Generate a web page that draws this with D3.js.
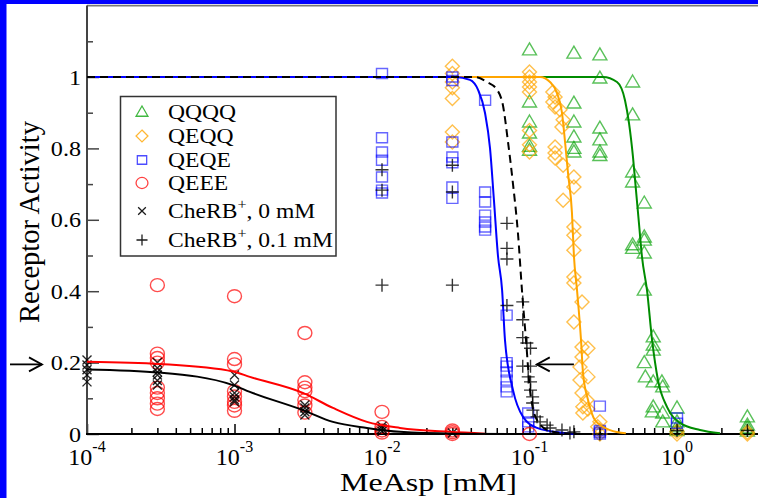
<!DOCTYPE html>
<html><head><meta charset="utf-8">
<script src="https://cdn.jsdelivr.net/npm/d3@7/dist/d3.min.js"></script>
<style>body{margin:0;background:#fff}svg{display:block}text{font-family:"Liberation Serif","Times New Roman",serif;fill:#000}</style>
</head><body>
<svg id="chart" width="758" height="498"></svg>
<script>
// ---------- tick labels ----------
const xTicks = [1e-4, 1e-3, 1e-2, 1e-1, 1];
const xTickExp = ["-4", "-3", "-2", "-1", "0"];
const yTicks = [0, 0.2, 0.4, 0.6, 0.8, 1];
const yTickLabels = ["0", "0.2", "0.4", "0.6", "0.8", "1"];
const yMinorTicks = [0.1, 0.3, 0.5, 0.7, 0.9, 1.1];
const legendLabels = ["QQQQ", "QEQQ", "QEQE", "QEEE", "CheRB+, 0 mM", "CheRB+, 0.1 mM"];

// ---------- measured points [MeAsp mM, activity] ----------
const qqqq = [
  [0.1,1.076],[0.1,0.93],[0.1,0.874],[0.1,0.843],[0.1,0.806],[0.1,0.795],
  [0.2,1.067],[0.2,0.927],[0.2,0.874],[0.2,0.832],[0.2,0.80],[0.2,0.79],
  [0.3,1.062],[0.3,0.997],[0.3,0.857],[0.3,0.824],[0.3,0.79],[0.3,0.78],
  [0.5,0.986],[0.5,0.894],[0.5,0.734],[0.5,0.706],[0.5,0.53],[0.5,0.52],
  [0.6,0.647],[0.6,0.552],[0.6,0.543],[0.6,0.507],[0.6,0.403],[0.6,0.2],[0.61,0.16],
  [0.69,0.272],[0.69,0.249],[0.69,0.235],[0.69,0.146],[0.69,0.076],[0.68,0.062],
  [0.79,0.146],[0.8,0.132],[0.8,0.059],[0.8,0.034],
  [1,0.073],[1,0.034],[1,0.02],[1,0.01],
  [3,0.048],[3,0.025],[3,0.017],[3,0.008]
];
const qeqq = [
  [0.03,1.03],[0.03,1.01],[0.03,0.986],[0.03,0.97],[0.03,0.94],[0.03,0.846],[0.03,0.818],
  [0.1,1.014],[0.1,1.0],[0.1,0.986],[0.1,0.972],[0.1,0.958],[0.1,0.85],[0.1,0.81],[0.1,0.79],
  [0.144,0.958],[0.149,0.944],[0.144,0.93],[0.149,0.916],[0.161,0.908],[0.169,0.88],[0.166,0.86],
  [0.149,0.804],[0.149,0.787],[0.149,0.773],[0.169,0.753],[0.2,0.72],[0.2,0.692],[0.169,0.655],
  [0.2,0.58],[0.2,0.557],[0.2,0.515],[0.2,0.44],[0.2,0.423],[0.227,0.37],[0.2,0.314],
  [0.227,0.244],[0.249,0.24],[0.227,0.216],[0.22,0.188],[0.249,0.16],[0.22,0.151],
  [0.227,0.115],[0.245,0.095],[0.23,0.076],[0.249,0.07],[0.23,0.059],[0.3,0.034],[0.29,0.02],
  [0.3,0.01],[0.3,0.0],[1,0.008],[1,0.0],[3,0.005],[3,0.0]
];
const qeqe = [
  [0.01,1.01],[0.01,0.83],[0.01,0.79],[0.01,0.767],[0.01,0.72],[0.01,0.683],[0.01,0.675],
  [0.03,1.0],[0.03,0.99],[0.03,0.818],[0.03,0.776],[0.03,0.76],[0.03,0.692],[0.03,0.66],
  [0.05,0.935],[0.05,0.678],[0.05,0.65],[0.05,0.613],[0.05,0.594],[0.05,0.58],[0.05,0.571],
  [0.07,0.333],[0.07,0.2],[0.07,0.19],[0.07,0.174],[0.07,0.151],[0.07,0.132],[0.07,0.118],
  [0.098,0.059],[0.098,0.034],[0.098,0.02],
  [0.3,0.078],[0.3,0.01],[0.3,0.005],[0.3,0.0],
  [1,0.045],[1,0.03]
];
const qeee = [
  [3e-4,0.417],[3e-4,0.225],[3e-4,0.213],[3e-4,0.2],[3e-4,0.13],[3e-4,0.115],[3e-4,0.1],[3e-4,0.085],[3e-4,0.07],
  [1e-3,0.386],[1e-3,0.21],[1e-3,0.195],[1e-3,0.12],[1e-3,0.105],[1e-3,0.09],[1e-3,0.08],[1e-3,0.065],
  [3e-3,0.283],[3e-3,0.145],[3e-3,0.13],[3e-3,0.12],[3e-3,0.095],[3e-3,0.08],[3e-3,0.06],
  [0.01,0.062],[0.01,0.02],[0.01,0.01],[0.01,0.004],
  [0.03,0.01],[0.03,0.005],[0.03,0.0],
  [0.1,0.0]
];
const cherb0 = [
  [1e-4,0.207],[1e-4,0.193],[1e-4,0.18],[1e-4,0.165],[1e-4,0.146],
  [3e-4,0.2],[3e-4,0.185],[3e-4,0.174],[3e-4,0.165],[3e-4,0.15],[3e-4,0.137],
  [1e-3,0.165],[1e-3,0.137],[1e-3,0.115],[1e-3,0.104],[1e-3,0.095],[1e-3,0.09],
  [3e-3,0.081],[3e-3,0.073],[3e-3,0.062],[3e-3,0.053],
  [0.01,0.022],[0.01,0.015],[0.01,0.008],
  [0.03,0.003]
];
const cherb01 = [
  [0.01,0.74],[0.01,0.683],[0.01,0.417],
  [0.03,0.753],[0.03,0.678],[0.03,0.417],
  [0.0703,0.59],[0.0703,0.52],[0.0703,0.49],[0.0703,0.36],
  [0.09,0.37],[0.09,0.32],[0.09,0.27],[0.096,0.255],[0.1016,0.24],[0.09,0.19],[0.1016,0.19],
  [0.098,0.16],[0.1016,0.146],[0.1016,0.123],[0.105,0.104],[0.105,0.087],[0.1055,0.067],
  [0.1125,0.048],[0.118,0.034],[0.1316,0.025],[0.138,0.017],[0.166,0.011],[0.2,0.006],[0.188,0.003],
  [0.3,0.0],[1,0.01],[3,0.01]
];

// ---------- model curves [MeAsp mM, activity] ----------
const curveQQQQ = [[1e-4,1],[0.315,1],[0.392,0.986],[0.444,0.935],[0.473,0.87],[0.503,0.776],[0.527,0.683],[0.552,0.591],[0.579,0.496],[0.626,0.403],[0.678,0.263],[0.743,0.151],[0.855,0.076],[1.047,0.031],[1.432,0.011],[1.958,0.002]];
const curveQEQQ = [[1e-4,1],[0.118,1],[0.1377,0.986],[0.1535,0.955],[0.166,0.9],[0.174,0.82],[0.1825,0.73],[0.194,0.62],[0.2,0.5],[0.21,0.403],[0.2235,0.263],[0.2305,0.171],[0.2494,0.095],[0.278,0.039],[0.3516,0.011],[0.45,0.002]];
const curveQEQE = [[1e-4,1],[0.0313,1],[0.0395,0.992],[0.0448,0.964],[0.0499,0.90],[0.054,0.80],[0.0574,0.655],[0.0611,0.50],[0.0652,0.403],[0.0682,0.263],[0.0773,0.123],[0.0904,0.048],[0.1125,0.017],[0.161,0.004],[0.2,0.0]];
const curveCheRB01 = [[1e-4,1],[0.0428,1],[0.0515,0.986],[0.0603,0.964],[0.0661,0.92],[0.0714,0.82],[0.0773,0.70],[0.0836,0.56],[0.089,0.40],[0.0947,0.263],[0.1008,0.123],[0.1125,0.039],[0.1377,0.008],[0.188,0.0]];
const curveQEEE = [[1e-4,0.2025],[3.13e-4,0.196],[9.77e-4,0.175],[1.27e-3,0.16],[2.91e-3,0.115],[4.65e-3,0.073],[7.91e-3,0.034],[0.01324,0.017],[0.0289,0.006],[0.05,0.001]];
const curveCheRB0 = [[1e-4,0.181],[3.13e-4,0.172],[9.77e-4,0.137],[1.27e-3,0.118],[2.91e-3,0.067],[4.65e-3,0.034],[7.91e-3,0.017],[0.01324,0.006],[0.03,0.001],[0.1,0.0]];

// ---------- drawing ----------
const svg = d3.select("#chart");
const x = d3.scaleLog().domain([1e-4, Math.pow(10, 0.6)]).range([87, 765.5]);
const y = d3.scaleLinear().domain([0, 1.2]).range([434, 5.6]);
const SX = 1.15; // horizontal stretch of glyphs in the original

svg.append("rect").attr("width", 758).attr("height", 498).attr("fill", "#fff");

// axes ticks
const minorX = [];
xTicks.forEach(d => { for (let k = 2; k <= 9; k++) { if (d * k < x.domain()[1]) minorX.push(d * k); } });
const gx = svg.append("g").attr("transform", "translate(0,434)");
gx.call(d3.axisBottom(x).tickValues(xTicks).tickSize(-10).tickFormat(""));
gx.append("g").call(d3.axisBottom(x).tickValues(minorX).tickSize(-6).tickFormat(""));
gx.selectAll(".domain").remove();
gx.selectAll("line").attr("stroke", "#000").attr("stroke-width", 1.5);

const gy = svg.append("g").attr("transform", "translate(87,0)");
gy.call(d3.axisLeft(y).tickValues(yTicks).tickSize(-12).tickFormat(""));
gy.append("g").call(d3.axisLeft(y).tickValues(yMinorTicks).tickSize(-6).tickFormat(""));
gy.selectAll(".domain").remove();
gy.selectAll("line").attr("stroke", "#444").attr("stroke-width", 1.5);

// frame lines
svg.append("line").attr("x1", 87).attr("x2", 758).attr("y1", y(1.2)).attr("y2", y(1.2)).attr("stroke", "#777").attr("stroke-width", 1.6);
svg.append("line").attr("x1", 87).attr("x2", 87).attr("y1", y(1.2)).attr("y2", y(0)).attr("stroke", "#444").attr("stroke-width", 2);
svg.append("line").attr("x1", 86).attr("x2", 758).attr("y1", y(0)).attr("y2", y(0)).attr("stroke", "#000").attr("stroke-width", 2);

// symbols
const sym = {
  tri: "M0,-7L7,5L-7,5Z",
  dia: "M0,-7L7,0L0,7L-7,0Z",
  sq: "M-5.5,-5H5.5V5H-5.5Z",
  circ: "M7,0A7,6.5 0 1,1 -7,0A7,6.5 0 1,1 7,0Z",
  cross: "M-4.5,-4.5L4.5,4.5M-4.5,4.5L4.5,-4.5",
  plus: "M-6.5,0H6.5M0,-6.5V6.5"
};
const series = [
  {data: qqqq, shape: "tri", color: "#00a000", op: 0.65},
  {data: qeqq, shape: "dia", color: "#ffa500", op: 0.7},
  {data: qeqe, shape: "sq", color: "#0000ff", op: 0.6},
  {data: qeee, shape: "circ", color: "#ff0000", op: 0.7},
  {data: cherb0, shape: "cross", color: "#000", op: 0.85}
];
function drawMarkers(s) {
  svg.append("g").selectAll("path").data(s.data).join("path")
    .attr("d", sym[s.shape])
    .attr("transform", d => `translate(${x(d[0])},${y(d[1])})`)
    .attr("fill", "none").attr("stroke", s.color)
    .attr("stroke-opacity", s.op).attr("stroke-width", 1.4);
}
series.forEach(drawMarkers);

// curves
const line = d3.line().x(d => x(d[0])).y(d => y(d[1])).curve(d3.curveMonotoneX);
const curves = [
  {data: curveQQQQ, color: "#008c00", dash: null},
  {data: curveQEQQ, color: "#ffa500", dash: null},
  {data: curveQEEE, color: "#ff0000", dash: null},
  {data: curveCheRB0, color: "#000", dash: null},
  {data: curveQEQE, color: "#0000ff", dash: null},
  {data: curveCheRB01, color: "#000", dash: "8,5"}
];
curves.forEach(c => {
  svg.append("path").attr("d", line(c.data)).attr("fill", "none")
    .attr("stroke", c.color).attr("stroke-width", 2).attr("stroke-dasharray", c.dash);
});
drawMarkers({data: cherb01, shape: "plus", color: "#000", op: 0.8});

// tick labels
yTicks.forEach((v, i) => {
  svg.append("text").attr("transform", `translate(81,${y(v) + 7.5}) scale(${SX},1)`)
    .attr("text-anchor", "end").attr("font-size", 21).text(yTickLabels[i]);
});
xTicks.forEach((v, i) => {
  const t = svg.append("text").attr("transform", `translate(${x(v)},465)`)
    .attr("text-anchor", "middle").attr("font-size", 24);
  t.append("tspan").text("10");
  t.append("tspan").attr("dy", -13).attr("font-size", 16).text(xTickExp[i]);
});

// axis titles
svg.append("text").attr("x", 340).attr("y", 491).attr("font-size", 26)
  .attr("textLength", 177).attr("lengthAdjust", "spacingAndGlyphs").text("MeAsp [mM]");
svg.append("text").attr("transform", "translate(39,222) rotate(-90)")
  .attr("text-anchor", "middle").attr("font-size", 28.5).text("Receptor Activity");

// legend
const lg = svg.append("g");
lg.append("rect").attr("x", 120.5).attr("y", 96.5).attr("width", 215.5).attr("height", 159.5)
  .attr("fill", "#fff").attr("stroke", "#333").attr("stroke-width", 1.5);
const legendSym = [["tri", "#00a000", 0.75], ["dia", "#ffa500", 0.8], ["sq", "#0000ff", 0.7], ["circ", "#ff0000", 0.75], ["cross", "#000", 0.9], ["plus", "#000", 0.9]];
const legendY = [112, 136, 160, 183, 211, 240];
legendLabels.forEach((lab, i) => {
  lg.append("path").attr("d", sym[legendSym[i][0]])
    .attr("transform", `translate(142,${legendY[i]}) scale(0.85)`)
    .attr("fill", "none").attr("stroke", legendSym[i][1]).attr("stroke-opacity", legendSym[i][2]).attr("stroke-width", 1.5);
  const t = lg.append("text").attr("transform", `translate(168,${legendY[i] + 7}) scale(${SX},1)`).attr("font-size", 20.5);
  const parts = lab.split("+");
  t.append("tspan").text(parts[0]);
  if (parts.length > 1) {
    t.append("tspan").attr("dy", -9).attr("font-size", 14).text("+");
    t.append("tspan").attr("dy", 9).attr("font-size", 20.5).text(parts[1]);
  }
});

// arrows marking activity 0.2
function arrow(x1, x2, yy) {
  const dir = Math.sign(x2 - x1);
  const g = svg.append("g").attr("stroke", "#000").attr("stroke-width", 1.8).attr("fill", "none");
  g.append("line").attr("x1", x1).attr("x2", x2).attr("y1", yy).attr("y2", yy);
  g.append("path").attr("d", `M${x2 - dir * 13},${yy - 7}L${x2},${yy}L${x2 - dir * 13},${yy + 7}`);
}
arrow(10, 42, y(0.195));
arrow(x(0.2), x(0.112), y(0.195));

// blue slide border
svg.append("rect").attr("x", 0).attr("y", 0).attr("width", 6.5).attr("height", 498).attr("fill", "#0000ff");
svg.append("rect").attr("x", 0).attr("y", 0).attr("width", 758).attr("height", 4).attr("fill", "#0000ff");
</script>
</body></html>
